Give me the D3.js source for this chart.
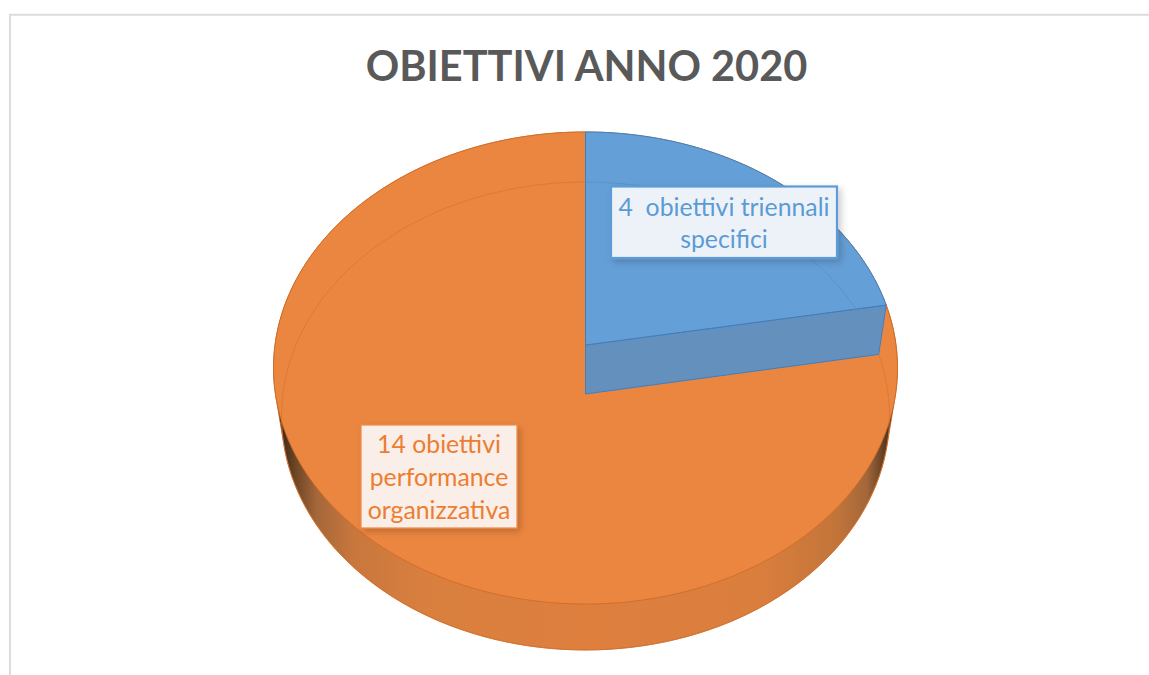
<!DOCTYPE html>
<html>
<head>
<meta charset="utf-8">
<title>Obiettivi anno 2020</title>
<script src="https://cdn.jsdelivr.net/npm/d3@7"></script>
<style>
  html, body { margin: 0; padding: 0; background: #fff; overflow: hidden; }
  svg { display: block; }
  text { font-family: Lato, "Open Sans", sans-serif; }
</style>
</head>
<body>
<div id="chart"></div>
<script>
const svgWidth = 1149;
const svgHeight = 675;

const titleText = "OBIETTIVI ANNO 2020";
const categories = ["obiettivi triennali specifici", "obiettivi performance organizzativa"];
const values = [4, 14];
const labelLines = [
  ["4  obiettivi triennali", "specifici"],
  ["14 obiettivi", "performance", "organizzativa"],
];

const sliceColors = ["#659fd7", "#eb8641"];
const labelColors = ["#5b9bd5", "#ed7d31"];

// the pie is tilted with some perspective, so each face is a projected circle
const topFace = { cx: 585.5, cy: 345, a: 310.5, b: 233.8, k: 0.0975 };
const bottomFace = { cx: 585.5, cy: 394, a: 302.6, b: 231.9, k: 0.094 };

const labelBoxes = [
  { x: 611, y: 186.5, w: 226, h: 71.5, fill: "#edf2f9", stroke: "#5b9bd5", sw: 2.2, lineY: [216, 248], size: 24.8 },
  { x: 361, y: 425, w: 156, h: 103, fill: "#f9eee8", stroke: "#ee8a45", sw: 1.2, lineY: [453, 486, 519], size: 24.8 },
];

const svg = d3.select("#chart")
  .append("svg")
  .attr("width", svgWidth)
  .attr("height", svgHeight)
  .attr("viewBox", `0 0 ${svgWidth} ${svgHeight}`);

const defs = svg.append("defs");

const sideGradient = defs.append("linearGradient")
  .attr("id", "side")
  .attr("gradientUnits", "userSpaceOnUse")
  .attr("x1", 273).attr("x2", 898).attr("y1", 0).attr("y2", 0);
[
  [0.01, "#33261a"], [0.035, "#6b4526"], [0.07, "#a5673a"], [0.13, "#c9773d"], [0.25, "#d9803f"],
  [0.5, "#de7f3e"], [0.78, "#da7e3e"], [0.9, "#c37539"], [0.95, "#a3673a"], [0.98, "#5a3c22"], [0.995, "#33261a"],
].forEach(([offset, color]) => {
  sideGradient.append("stop").attr("offset", offset).attr("stop-color", color);
});

const labelShadow = defs.append("filter").attr("id", "labelShadow")
  .attr("x", "-10%").attr("y", "-15%").attr("width", "125%").attr("height", "135%");
labelShadow.append("feDropShadow")
  .attr("dx", 3).attr("dy", 3).attr("stdDeviation", 3.5)
  .attr("flood-color", "#000").attr("flood-opacity", 0.2);

// frame of the original chart area
svg.append("path")
  .attr("d", d3.line()([[10, svgHeight], [10, 14.7], [svgWidth, 14.7]]))
  .attr("fill", "none")
  .attr("stroke", "#dcdcdc")
  .attr("stroke-width", 2);

svg.append("text")
  .attr("x", 586.5)
  .attr("y", 81)
  .attr("text-anchor", "middle")
  .attr("font-size", 41.5)
  .attr("font-weight", 700)
  .attr("fill", "#595959")
  .text(titleText);

const slices = d3.pie().sort(null).startAngle(0).endAngle(2 * Math.PI)(values);

function project(face, angle) {
  const X = Math.sin(angle);
  const Y = Math.cos(angle);
  const w = 1 + face.k * Y;
  return [face.cx + face.a * X / w, face.cy - face.b * Y / w];
}

function arcPoints(face, start, end) {
  return d3.range(0, 181).map((i) => project(face, start + (end - start) * i / 180));
}

const line = d3.line();
const chart = svg.append("g");

// body of the pie: everything between the two faces
const hull = d3.polygonHull(
  arcPoints(topFace, 0, 2 * Math.PI).concat(arcPoints(bottomFace, 0, 2 * Math.PI))
);
chart.append("path")
  .attr("d", line(hull) + "Z")
  .attr("fill", "url(#side)")
  .attr("stroke", "#c8661f")
  .attr("stroke-width", 0.8);

// orange slice first, the blue one sits on top of it
const [blue, orange] = slices;

chart.append("path")
  .attr("d", line([[topFace.cx, topFace.cy], ...arcPoints(topFace, orange.startAngle, orange.endAngle)]) + "Z")
  .attr("fill", sliceColors[1])
  .attr("stroke", "#cf6c26")
  .attr("stroke-width", 0.9);

// faint rim of the bottom face, seen through the top
chart.append("path")
  .attr("d", line(arcPoints(bottomFace, blue.endAngle, blue.endAngle + 2 * Math.PI * 0.78)))
  .attr("fill", "none")
  .attr("stroke", "#d8722c")
  .attr("stroke-width", 1)
  .attr("stroke-opacity", 0.7);

// blue wedge: side wall down to the bottom face, then the top
chart.append("path")
  .attr("d", line([
    [topFace.cx, topFace.cy],
    project(topFace, blue.endAngle),
    project(bottomFace, blue.endAngle),
    [bottomFace.cx, bottomFace.cy],
  ]) + "Z")
  .attr("fill", "#6490bd")
  .attr("stroke", "#3f7fbf")
  .attr("stroke-width", 1);

chart.append("path")
  .attr("d", line([[topFace.cx, topFace.cy], ...arcPoints(topFace, blue.startAngle, blue.endAngle)]) + "Z")
  .attr("fill", sliceColors[0])
  .attr("stroke", "#3f7fbf")
  .attr("stroke-width", 1);

chart.append("path")
  .attr("d", line(arcPoints(bottomFace, blue.startAngle, blue.endAngle)))
  .attr("fill", "none")
  .attr("stroke", "#5a94cc")
  .attr("stroke-width", 1);

// data labels
labelBoxes.forEach((box, i) => {
  const group = svg.append("g").attr("class", "label").attr("aria-label", `${values[i]} ${categories[i]}`);
  group.append("rect")
    .attr("x", box.x)
    .attr("y", box.y)
    .attr("width", box.w)
    .attr("height", box.h)
    .attr("fill", box.fill)
    .attr("stroke", box.stroke)
    .attr("stroke-width", box.sw)
    .attr("filter", "url(#labelShadow)");
  labelLines[i].forEach((txt, j) => {
    group.append("text")
      .attr("x", box.x + box.w / 2)
      .attr("y", box.lineY[j])
      .attr("text-anchor", "middle")
      .attr("font-size", box.size)
      .attr("fill", labelColors[i])
      .style("white-space", "pre")
      .text(txt);
  });
});
</script>
</body>
</html>
